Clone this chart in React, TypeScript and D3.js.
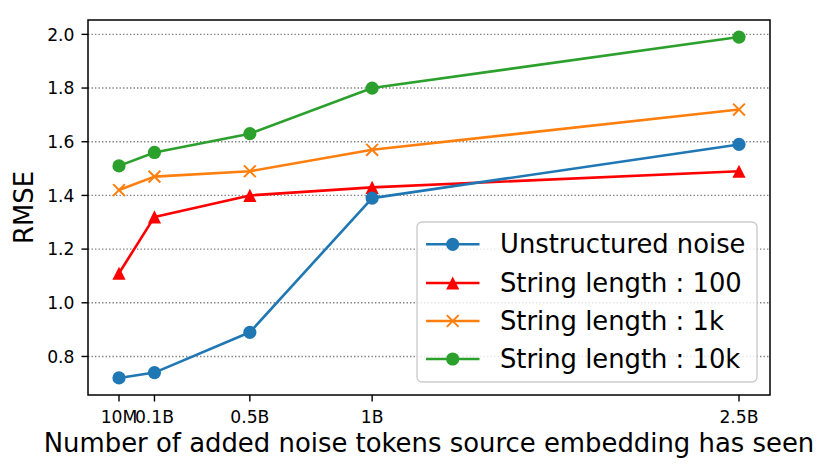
import React from 'react';
import * as d3 from 'd3';

const xPositions = [-0.035, 0.11, 0.5, 1.0, 2.5];
const xTickLabels = ['10M', '0.1B', '0.5B', '1B', '2.5B'];
const yTicks = [0.8, 1.0, 1.2, 1.4, 1.6, 1.8, 2.0];
const seriesNames = ['Unstructured noise', 'String length : 100', 'String length : 1k', 'String length : 10k'];
const unstructured = [0.72, 0.74, 0.89, 1.39, 1.59];
const len100 = [1.11, 1.32, 1.40, 1.43, 1.49];
const len1k = [1.42, 1.47, 1.49, 1.57, 1.72];
const len10k = [1.51, 1.56, 1.63, 1.80, 1.99];
const colors = ['#1f77b4', '#ff0000', '#ff7f0e', '#2ca02c'];
const markers = ['circle', 'triangle', 'x', 'circle'];

const W = 830, H = 473;
const L = 88, R = 770, T = 20, B = 395;
const FONT = 'DejaVu Sans, sans-serif';

function padDomain(vals: number[]): [number, number] {
  const mn = Math.min(...vals), mx = Math.max(...vals);
  const r = mx - mn;
  return [mn - 0.05 * r, mx + 0.05 * r];
}

function Marker({ type, x, y, color }: { type: string; x: number; y: number; color: string }) {
  const s = 6.6;
  if (type === 'circle') return <circle cx={x} cy={y} r={s} fill={color} />;
  if (type === 'triangle')
    return <path d={`M${x},${y - s}L${x + s},${y + s}L${x - s},${y + s}Z`} fill={color} />;
  const h = 5.9;
  return (
    <path d={`M${x - h},${y - h}L${x + h},${y + h}M${x - h},${y + h}L${x + h},${y - h}`} stroke={color} strokeWidth={2} fill="none" />
  );
}

export default function App() {
  const series = [unstructured, len100, len1k, len10k];
  const allY = series.flat();
  const x = d3.scaleLinear().domain(padDomain(xPositions)).range([L, R]);
  const y = d3.scaleLinear().domain(padDomain(allY)).range([B, T]);
  const line = d3.line<number>().x((_, i) => x(xPositions[i])).y((d) => y(d));
  const drawOrder = [1, 2, 3, 0];
  const legX = 417, legY = 222, legW = 340, legH = 160;
  const rowY = [244.3, 283, 321, 359];

  return (
    <svg width={W} height={H} style={{ position: 'absolute', left: 0, top: 0, background: '#fff' }} fontFamily={FONT}>
      <rect width={W} height={H} fill="#fff" />
      {yTicks.map((t) => (
        <line key={'g' + t} x1={L} x2={R} y1={y(t)} y2={y(t)} stroke="#808080" strokeWidth={1.4} strokeDasharray="1.4 2.1" />
      ))}
      {drawOrder.map((si) => (
        <g key={'s' + si}>
          <path d={line(series[si]) || ''} fill="none" stroke={colors[si]} strokeWidth={2.6} strokeLinejoin="round" />
          {series[si].map((v, i) => (
            <Marker key={i} type={markers[si]} x={x(xPositions[i])} y={y(v)} color={colors[si]} />
          ))}
        </g>
      ))}
      <rect x={L} y={T} width={R - L} height={B - T} fill="none" stroke="#000" strokeWidth={1.5} />
      {yTicks.map((t) => (
        <g key={'yt' + t}>
          <line x1={L - 6.5} x2={L} y1={y(t)} y2={y(t)} stroke="#000" strokeWidth={1.4} />
          <text x={74.5} y={y(t) + 6.2} textAnchor="end" fontSize={17.2} fill="#000">{t.toFixed(1)}</text>
        </g>
      ))}
      {xPositions.map((p, i) => (
        <g key={'xt' + i}>
          <line x1={x(p)} x2={x(p)} y1={B} y2={B + 6.5} stroke="#000" strokeWidth={1.4} />
          <text x={x(p)} y={423} textAnchor="middle" fontSize={17.2} fill="#000">{xTickLabels[i]}</text>
        </g>
      ))}
      <text x={(L + R) / 2} y={452} textAnchor="middle" fontSize={25.9} fill="#000">
        Number of added noise tokens source embedding has seen
      </text>
      <text transform={`translate(33,${(T + B) / 2}) rotate(-90)`} textAnchor="middle" fontSize={25.9} fill="#000">RMSE</text>
      <rect x={legX} y={legY} width={legW} height={legH} rx={5} fill="#fff" fillOpacity={0.8} stroke="#cccccc" strokeWidth={1.4} />
      {seriesNames.map((n, i) => (
        <g key={'l' + i}>
          <line x1={426} x2={479.5} y1={rowY[i]} y2={rowY[i]} stroke={colors[i]} strokeWidth={2.6} />
          <Marker type={markers[i]} x={452.7} y={rowY[i]} color={colors[i]} />
          <text x={500} y={rowY[i] + 8.5} fontSize={25.8} fill="#000">{n}</text>
        </g>
      ))}
    </svg>
  );
}
